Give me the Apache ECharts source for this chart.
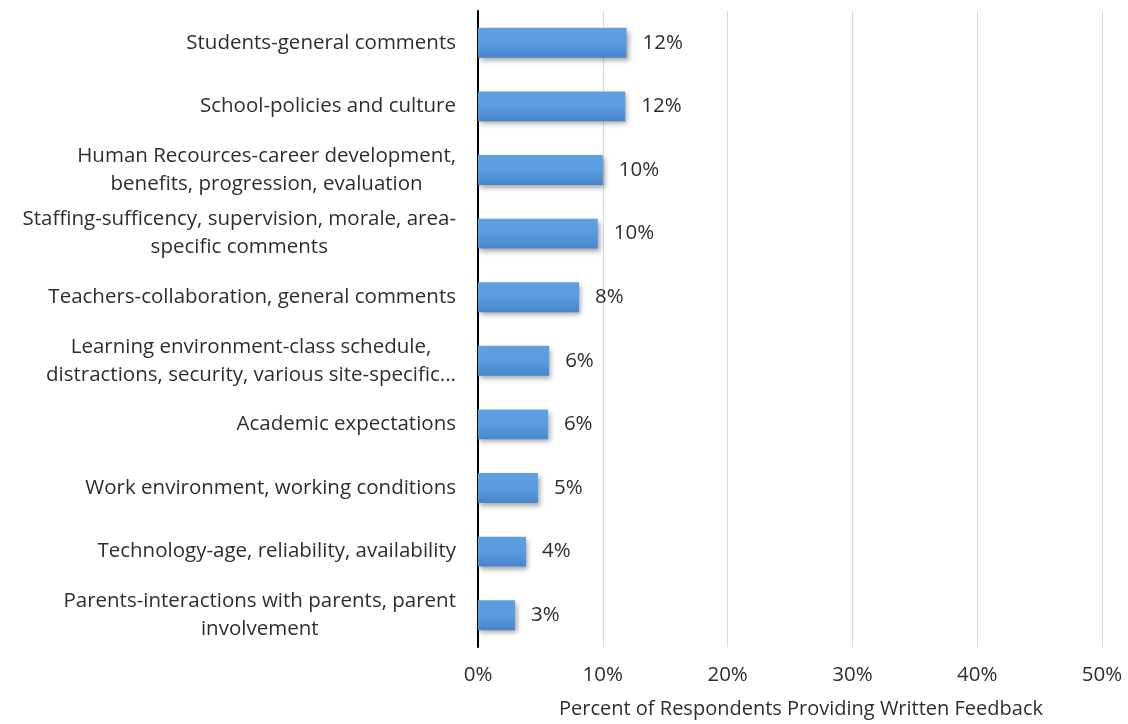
<!DOCTYPE html>
<html>
<head>
<meta charset="utf-8">
<script src="https://cdn.jsdelivr.net/npm/echarts@6/dist/echarts.min.js"></script>
<style>
  html, body { margin: 0; padding: 0; background: #fff; }
  #chart { width: 1128px; height: 724px; }
</style>
</head>
<body>
<div id="chart"></div>
<script>
// categories listed top to bottom
var categories = [
  'Students-general comments',
  'School-policies and culture',
  'Human Recources-career development,\nbenefits, progression, evaluation',
  'Staffing-sufficency, supervision, morale, area-\nspecific comments',
  'Teachers-collaboration, general comments',
  'Learning environment-class schedule,\ndistractions, security, various site-specific...',
  'Academic expectations',
  'Work environment, working conditions',
  'Technology-age, reliability, availability',
  'Parents-interactions with parents, parent\ninvolvement'
];
var percents = [11.9, 11.8, 10.0, 9.6, 8.1, 5.7, 5.6, 4.8, 3.85, 2.96];
var xTicks = [0, 10, 20, 30, 40, 50];

var font = '"Open Sans", "Noto Sans", sans-serif';
var txt = '#2e2e2e';
var fs = 20.5;

var dom = document.getElementById('chart');
var myChart = echarts.init(dom);

var option = {
  animation: false,
  textStyle: { fontFamily: font },
  grid: { left: 478, right: 26, top: 11, bottom: 77, outerBoundsMode: 'none' },
  xAxis: {
    type: 'value',
    min: xTicks[0],
    max: xTicks[xTicks.length - 1],
    interval: 10,
    name: 'Percent of Respondents Providing Written Feedback',
    nameLocation: 'middle',
    nameGap: 52,
    nameTextStyle: { fontSize: 20, color: txt, fontFamily: font, padding: [0, 0, 0, 22] },
    axisLine: { show: false },
    axisTick: { show: false },
    axisLabel: {
      margin: 18,
      fontSize: fs,
      color: txt,
      fontFamily: font,
      formatter: function (v) { return v + '%'; }
    },
    splitLine: { lineStyle: { color: '#d9d9d9', width: 1 } }
  },
  yAxis: {
    type: 'category',
    inverse: true,
    data: categories,
    axisLine: { lineStyle: { color: '#000', width: 2 } },
    axisTick: { show: false },
    axisLabel: {
      margin: 22,
      fontSize: fs,
      color: txt,
      fontFamily: font,
      lineHeight: 28,
      formatter: function (v) {
        return v.split('\n').map(function (l) { return '{c|' + l + '}'; }).join('\n');
      },
      rich: {
        c: { align: 'center', fontSize: fs, lineHeight: 28, color: txt, fontFamily: font }
      }
    }
  },
  series: [{
    type: 'bar',
    data: percents,
    barWidth: '47%',
    itemStyle: {
      color: new echarts.graphic.LinearGradient(0, 0, 0, 1, [
        { offset: 0, color: '#5e9fe0' },
        { offset: 0.5, color: '#5a9ce0' },
        { offset: 1, color: '#4886cc' }
      ]),
      shadowColor: 'rgba(0,0,0,0.35)',
      shadowBlur: 5,
      shadowOffsetX: 2,
      shadowOffsetY: 3
    },
    label: {
      show: true,
      position: 'right',
      distance: 16,
      fontSize: fs,
      color: txt,
      fontFamily: font,
      formatter: function (p) { return Math.round(p.value) + '%'; }
    }
  }]
};

myChart.setOption(option);
</script>
</body>
</html>
